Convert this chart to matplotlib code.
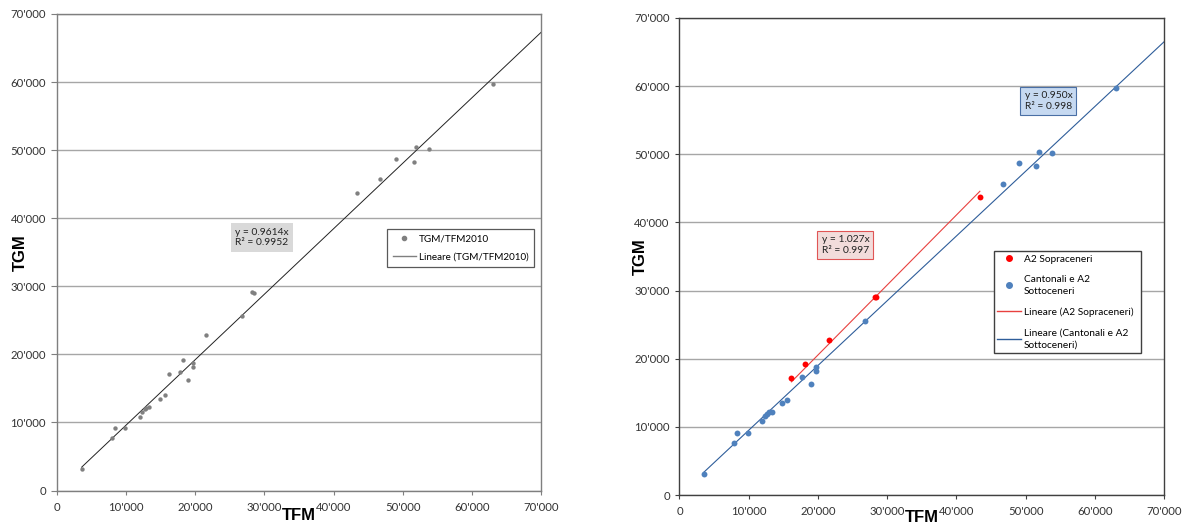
import matplotlib
matplotlib.use("Agg")
import matplotlib.pyplot as plt
from matplotlib.ticker import FuncFormatter, MultipleLocator
from matplotlib.lines import Line2D
import numpy as np

# ---------------- data ----------------
# A2 Sopraceneri (red in right chart)
sop_tfm = [16170, 18180, 21540, 28200, 28450, 43400]
sop_tgm = [17100, 19170, 22790, 29120, 29000, 43770]
# Cantonali e A2 Sottoceneri (blue in right chart)
sot_tfm = [3560, 7900, 8370, 9870, 11990, 12300, 12700, 12900, 13300, 14830,
           15600, 17770, 19000, 19680, 19730, 26760, 46750, 49080, 51560,
           51870, 53830, 63130]
sot_tgm = [3140, 7650, 9120, 9120, 10830, 11570, 11960, 12160, 12200, 13430,
           13970, 17350, 16270, 18190, 18770, 25590, 45690, 48730, 48240,
           50390, 50200, 59700]

slope_all, r2_all = 0.9614, 0.9952
slope_sop, r2_sop = 1.027, 0.997
slope_sot, r2_sot = 0.950, 0.998

x_max = 70000
y_max = 70000

tfm_all = sot_tfm + sop_tfm
tgm_all = sot_tgm + sop_tgm

# ---------------- style ----------------
TF = ["Lato", "DejaVu Sans"]
LF = ["Liberation Sans", "DejaVu Sans"]


def fmt(v, pos):
    v = int(round(v))
    if v == 0:
        return "0"
    return f"{v // 1000}'000"


def style_axes(ax, spine_col, ylen, xlen, ylab_x, xlab_pad):
    ax.set_xlim(0, x_max)
    ax.set_ylim(0, y_max)
    ax.xaxis.set_major_locator(MultipleLocator(10000))
    ax.yaxis.set_major_locator(MultipleLocator(10000))
    ax.xaxis.set_major_formatter(FuncFormatter(fmt))
    ax.yaxis.set_major_formatter(FuncFormatter(fmt))
    ax.grid(axis="y", color="#a6a6a6", lw=1.0)
    ax.set_axisbelow(True)
    for s in ax.spines.values():
        s.set_color(spine_col)
        s.set_linewidth(1.0)
    ax.tick_params(axis="both", direction="out", colors=spine_col,
                   labelcolor="#333333", labelsize=8.2)
    ax.tick_params(axis="y", length=ylen, pad=4)
    ax.tick_params(axis="x", length=xlen, pad=5)
    for lab in ax.get_xticklabels() + ax.get_yticklabels():
        lab.set_family(TF)
    ax.set_xlabel("TFM", fontsize=12, fontweight="bold", family=LF,
                  labelpad=xlab_pad)
    ax.set_ylabel("TGM", fontsize=12, fontweight="bold", family=LF)
    ax.yaxis.set_label_coords(ylab_x, 0.5)


fig = plt.figure(figsize=(11.85, 5.24), dpi=100)
fig.patch.set_facecolor("white")

# ---------------- left chart ----------------
ax1 = fig.add_axes([57 / 1185, 1 - 490.5 / 524, 484 / 1185, 476.5 / 524])
style_axes(ax1, "#7f7f7f", 4, 3, (28 - 57) / 484, -3.5)
ax1.scatter(tfm_all, tgm_all, s=10, color="#808080", zorder=3, linewidths=0)
xl = np.array([min(tfm_all), x_max])
ax1.plot(xl, slope_all * xl, color="#222222", lw=0.7, zorder=2)
ax1.text(29650, 37170, f"y = {slope_all:.4f}x\nR² = {r2_all:.4f}",
         ha="center", va="center", fontsize=7.4, family=TF, color="#222222",
         bbox=dict(boxstyle="square,pad=0.45", fc="#d9d9d9", ec="none"))
h1 = [Line2D([], [], ls="none", marker="o", ms=3, color="#808080"),
      Line2D([], [], color="#7f7f7f", lw=1.0)]
leg1 = ax1.legend(h1, ["TGM/TFM2010", "Lineare (TGM/TFM2010)"],
                  loc="center", bbox_to_anchor=(0.682, 0.467, 0.304, 0.084),
                  mode="expand", frameon=True, fancybox=False, framealpha=1,
                  edgecolor="#595959", prop={"family": TF, "size": 7.1},
                  handlelength=2.3, handletextpad=0.3, labelspacing=0.9,
                  borderpad=0.6, borderaxespad=0)
leg1.get_frame().set_linewidth(0.9)

# ---------------- right chart ----------------
ax2 = fig.add_axes([679.5 / 1185, 1 - 495 / 524, 484.5 / 1185, 477 / 524])
style_axes(ax2, "#404040", 3, 3, (648 - 679.5) / 484.5, -5)
xb = np.array([min(sot_tfm), x_max])
ax2.plot(xb, slope_sot * xb, color="#2e5d9a", lw=0.8, zorder=2)
xr = np.array([min(sop_tfm), max(sop_tfm)])
ax2.plot(xr, slope_sop * xr, color="#e8413f", lw=0.8, zorder=2)
ax2.scatter(sot_tfm, sot_tgm, s=18, color="#4f81bd", zorder=3, linewidths=0)
ax2.scatter(sop_tfm, sop_tgm, s=18, color="#ff0000", zorder=4, linewidths=0)
ax2.text(23980, 36690, f"y = {slope_sop:.3f}x\nR² = {r2_sop:.3f}",
         ha="center", va="center", fontsize=7.4, family=TF, color="#222222",
         bbox=dict(boxstyle="square,pad=0.4", fc="#f2dcdb", ec="#e05555", lw=0.8))
ax2.text(53300, 57800, f"y = {slope_sot:.3f}x\nR² = {r2_sot:.3f}",
         ha="center", va="center", fontsize=7.4, family=TF, color="#222222",
         bbox=dict(boxstyle="square,pad=0.4", fc="#c6d9f1", ec="#4a6fa5", lw=0.8))
h2 = [Line2D([], [], ls="none", marker="o", ms=4, color="#ff0000"),
      Line2D([], [], ls="none", marker="o", ms=4, color="#4f81bd"),
      Line2D([], [], color="#e8413f", lw=1.0),
      Line2D([], [], color="#2e5d9a", lw=1.0)]
leg2 = ax2.legend(h2, ["A2 Sopraceneri", "Cantonali e A2\nSottoceneri",
                       "Lineare (A2 Sopraceneri)",
                       "Lineare (Cantonali e A2\nSottoceneri)"],
                  loc="center", bbox_to_anchor=(0.649, 0.30, 0.304, 0.209),
                  mode="expand", frameon=True, fancybox=False, framealpha=1,
                  edgecolor="#404040", prop={"family": TF, "size": 7.3},
                  handlelength=2.3, handletextpad=0.3, labelspacing=1.1,
                  borderpad=0.35, borderaxespad=0)
leg2.get_frame().set_linewidth(1.0)
for t in leg2.get_texts():
    t.set_linespacing(1.5)

fig.savefig("out.png", dpi=100, facecolor="white")
